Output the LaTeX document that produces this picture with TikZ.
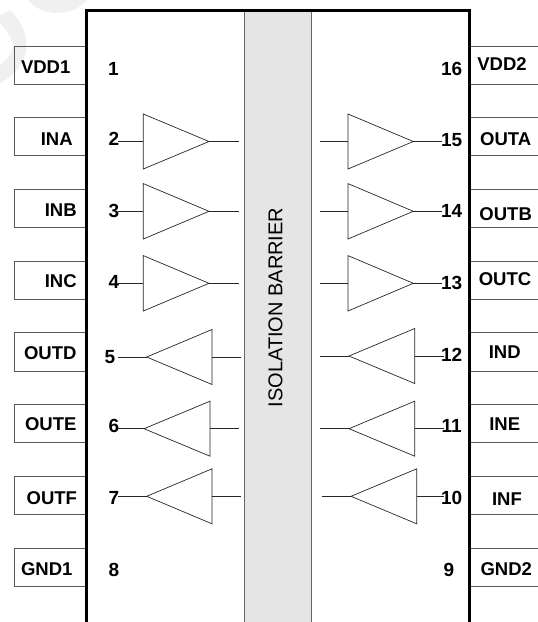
\documentclass[tikz,border=0pt]{standalone}
\usepackage{fontspec}
\setmainfont{Liberation Sans}
\newcommand{\ampl}[5]{% name, base x, tip x, centre y, half height
  \coordinate (#1b) at (#2,#4);
  \coordinate (#1t) at (#3,#4);
  \draw[ampline] (#2,#4-#5) -- (#1t) -- (#2,#4+#5) -- cycle;
}
\tikzset{
  ampline/.style={draw=black!85,line width=0.7pt,line join=miter},
  leadline/.style={draw=black!85,line width=0.7pt},
  pinbox/.style={draw=black!65,line width=0.8pt},
  pinlabel/.style={anchor=base,inner sep=0pt,font=\bfseries\fontsize{18.5}{20}\selectfont},
  pinnum/.style={anchor=base,inner sep=0pt,font=\bfseries\fontsize{19}{21}\selectfont},
  wmark/.style={fill=black!6},
}
\begin{document}
\begin{tikzpicture}[x=1pt,y=-1pt]
\useasboundingbox (0,0) rectangle (538,622);
% faint watermark
\fill[wmark] (28,0) .. controls (36,9) and (46,13) .. (57,13) .. controls (68,13) and (79,9) .. (87,0) -- cycle;
\fill[wmark] (0,15) -- (10,10) .. controls (22,22) and (28,36) .. (26,50) .. controls (25,62) and (15,75) .. (0,83) -- (0,65) .. controls (10,58) and (15,50) .. (12,42) .. controls (10,34) and (5,28) .. (0,23) -- cycle;
% barrier
\fill[black!10] (244,10) rectangle (311.5,622);
\draw[black!60,line width=0.8pt] (244,10) -- (244,622);
\draw[black!60,line width=0.8pt] (311,10) -- (311,622);
\node[rotate=90,inner sep=0pt,font=\fontsize{20}{22}\selectfont,text=black] (barrier) at (275.5,307.5) {ISOLATION BARRIER};
% left pin boxes
\foreach \a/\b in {46/84,117.5/155.5,189.5/227.5,261.5/299.5,332.7/371,404.5/442.5,476/514,548/586}{
  \draw[pinbox] (85,\a) -- (14,\a) -- (14,\b) -- (85,\b);
}
% right pin boxes (open at the edge)
\foreach \a/\b in {46/84,117.5/155.5,189.5/227.5,261.5/299.5,332.7/371,404.5/442.5,476/514,548/586}{
  \draw[pinbox] (469,\a) -- (538,\a);
  \draw[pinbox] (469,\b) -- (538,\b);
}
% package outline
\draw[black,line width=3pt] (86,622) -- (86,10) -- (469,10) -- (469,622);
% amplifiers, forward
\ampl{a2}{143.3}{209}{141.5}{27.5}
\ampl{a3}{143.3}{209}{211.3}{27.7}
\ampl{a4}{143.3}{209}{283.3}{27.7}
\ampl{a15}{348}{413.3}{141.5}{27.5}
\ampl{a14}{348}{413.3}{211.3}{27.7}
\ampl{a13}{348}{413.3}{283.3}{27.7}
% amplifiers, reverse
\ampl{a5}{212}{146.7}{357}{27.5}
\ampl{a6}{210}{144}{428.7}{27.5}
\ampl{a7}{212}{146.7}{496.3}{27.5}
\ampl{a12}{414.7}{349}{356}{27.5}
\ampl{a11}{414.7}{349}{428.7}{27.5}
\ampl{a10}{416.7}{351}{496.3}{27.5}
% leads
\foreach \n/\y in {a2/141.5,a3/211.3,a4/283.3}{
  \coordinate (\n i) at (118,\y); \coordinate (\n o) at (239,\y);
  \draw[leadline] (\n i) -- (\n b); \draw[leadline] (\n t) -- (\n o);
}
\foreach \n/\y in {a15/141.5,a14/211.3,a13/283.3}{
  \coordinate (\n i) at (320,\y); \coordinate (\n o) at (441.7,\y);
  \draw[leadline] (\n i) -- (\n b); \draw[leadline] (\n t) -- (\n o);
}
\foreach \n/\y/\l/\r in {a5/357/118/241.3,a6/428.7/118/239,a7/496.3/118/241.3,a12/356/320/444,a11/428.7/320/444,a10/496.3/322.3/444}{
  \coordinate (\n i) at (\l,\y); \coordinate (\n o) at (\r,\y);
  \draw[leadline] (\n i) -- (\n t); \draw[leadline] (\n b) -- (\n o);
}
% pin names
\foreach \n/\x/\y/\t in {
  lv1/45.7/73/VDD1,la/56.7/145/INA,lb/60.7/216/INB,lc/60.7/287.7/INC,
  ld/50.3/359/OUTD,le/50.8/430.7/OUTE,lf/51.8/504/OUTF,lg1/46.8/575/GND1,
  lv2/502/70.7/VDD2,loa/505.7/145.3/OUTA,lob/505.7/220.3/OUTB,loc/505/285.3/OUTC,
  lid/504.7/358.3/IND,lie/504.7/430/INE,lif/507/505.7/INF,lg2/506.3/575/GND2}{
  \node[pinlabel] (\n) at (\x,\y) {\t};
}
% pin numbers
\foreach \n/\x/\y in {
  1/113.3/75.3,2/114/145,3/114/217.3,4/114/288.7,5/110/363.3,6/114/432.3,7/114/504,8/114/576.7,
  16/451.7/75,15/451.7/146,14/451.7/217.7,13/451.7/289.3,12/451.7/361,11/451.7/432.7,10/451.7/504.3,9/449/576.7}{
  \node[pinnum] (n\n) at (\x,\y) {\n};
}
\end{tikzpicture}
\end{document}
